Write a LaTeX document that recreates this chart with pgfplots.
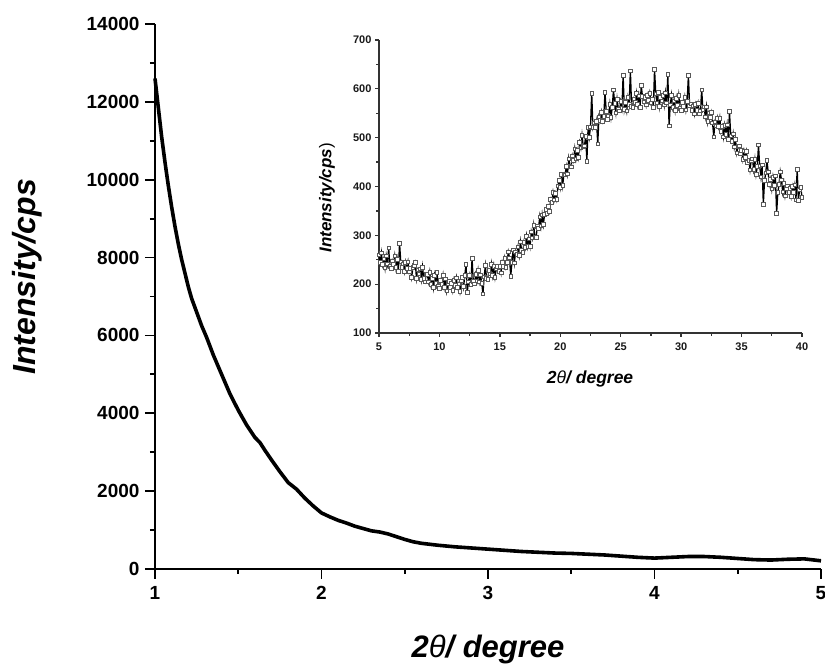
\documentclass[border=0pt]{standalone}
\usepackage{fontspec}
\setmainfont{Liberation Sans}
\usepackage{pgfplots}
\pgfplotsset{compat=1.18}
\begin{document}
\begin{tikzpicture}[x=1pt,y=1pt]
\useasboundingbox (0,0) rectangle (825,666);
% ---------- main axis ----------
\begin{axis}[
  at={(155pt,97pt)}, anchor=south west,
  scale only axis, width=666pt, height=545pt,
  xmin=1, xmax=5, ymin=0, ymax=14000,
  axis x line=bottom, axis y line=left,
  axis line style={-, line width=1.8pt, black},
  xtick={1,2,3,4,5}, ytick={0,2000,...,14000},
  minor x tick num=1, minor y tick num=1,
  tick align=outside,
  major tick length=10pt, minor tick length=5pt,
  every tick/.style={line width=1.8pt, black},
  scaled ticks=false,
  /pgf/number format/set thousands separator={},
  /pgf/number format/assume math mode=true,
  tick label style={font=\bfseries\fontsize{19}{19}\selectfont},
  xticklabel style={yshift=-4pt},
  yticklabel style={xshift=-2pt},
  xlabel={\bfseries\itshape 2{\mdseries θ}/ degree},
  ylabel={\bfseries\itshape Intensity/cps},
  xlabel style={at={(axis description cs:0.5,-0.163)}, anchor=base, font=\fontsize{31}{31}\selectfont},
  ylabel style={at={(axis description cs:-0.192,0.536)}, anchor=center, font=\fontsize{32}{32}\selectfont},
  clip=false,
]
\addplot[black, line width=3.6pt, line join=round] coordinates {
(1.00,12600)(1.02,11850)(1.04,11100)(1.06,10450)(1.08,9850)(1.10,9300)
(1.12,8800)(1.14,8350)(1.16,7950)(1.18,7600)(1.20,7250)(1.22,6950)
(1.25,6600)(1.28,6250)(1.31,5950)(1.35,5500)(1.40,5000)(1.45,4500)
(1.50,4080)(1.55,3700)(1.60,3380)(1.63,3250)(1.66,3050)(1.70,2800)
(1.75,2500)(1.80,2220)(1.85,2050)(1.90,1820)(1.95,1620)(2.00,1440)
(2.05,1340)(2.10,1250)(2.15,1180)(2.20,1100)(2.25,1040)(2.30,980)
(2.35,950)(2.40,900)(2.45,830)(2.50,760)(2.55,700)(2.60,660)
(2.70,610)(2.80,570)(2.90,540)(3.00,510)(3.10,480)(3.20,450)
(3.30,430)(3.40,410)(3.50,400)(3.60,380)(3.70,360)(3.80,330)
(3.90,300)(4.00,280)(4.10,300)(4.20,320)(4.30,320)(4.40,300)
(4.50,270)(4.60,240)(4.70,230)(4.80,250)(4.90,260)(5.00,210)
};
\end{axis}
% ---------- inset ----------
\begin{axis}[
  at={(379pt,333pt)}, anchor=south west,
  scale only axis, width=423pt, height=293pt,
  xmin=5, xmax=40, ymin=100, ymax=700,
  axis x line=bottom, axis y line=left,
  axis line style={-, line width=1.3pt, black!80},
  xtick={5,10,...,40}, ytick={100,200,...,700},
  minor x tick num=1, minor y tick num=1,
  tick align=outside,
  major tick length=4pt, minor tick length=3pt,
  every tick/.style={line width=1.3pt, black!80},
  /pgf/number format/assume math mode=true,
  tick label style={font=\bfseries\fontsize{11}{11}\selectfont, black!90},
  xticklabel style={yshift=-2pt},
  xlabel={\bfseries\itshape 2{\mdseries θ}/ degree},
  ylabel={\bfseries\itshape Intensity/cps\mdseries\upshape)},
  xlabel style={at={(axis description cs:0.499,-0.171)}, anchor=base, font=\fontsize{17.5}{17.5}\selectfont},
  ylabel style={at={(axis description cs:-0.123,0.461)}, anchor=center, font=\fontsize{17}{17}\selectfont},
  clip=false,
]
\addplot[black, line width=1.3pt, mark=square*, mark size=1.8pt,
  mark options={fill=white, draw=black!65, line width=0.7pt}] coordinates {
(5.0,260)(5.1,245)(5.2,264)(5.3,240)(5.4,252)(5.5,233)(5.6,258)(5.7,242)(5.8,274)(5.9,236)
(6.0,232)(6.1,248)(6.2,240)(6.3,258)(6.4,234)(6.5,251)(6.6,226)(6.7,284)(6.8,246)(6.9,234)
(7.0,242)(7.1,226)(7.2,245)(7.3,232)(7.4,246)(7.5,225)(7.6,232)(7.7,214)(7.8,234)(7.9,239)
(8.0,245)(8.1,212)(8.2,229)(8.3,221)(8.4,231)(8.5,210)(8.6,235)(8.7,212)(8.8,205)(8.9,220)
(9.0,220)(9.1,205)(9.2,224)(9.3,200)(9.4,212)(9.5,193)(9.6,218)(9.7,202)(9.8,224)(9.9,196)
(10.0,192)(10.1,208)(10.2,200)(10.3,218)(10.4,194)(10.5,211)(10.6,186)(10.7,202)(10.8,206)(10.9,194)
(11.0,202)(11.1,187)(11.2,208)(11.3,197)(11.4,213)(11.5,193)(11.6,201)(11.7,185)(11.8,207)(11.9,214)
(12.0,195)(12.1,218)(12.2,241)(12.3,183)(12.4,205)(12.5,218)(12.6,199)(12.7,253)(12.8,206)(12.9,201)
(13.0,220)(13.1,207)(13.2,228)(13.3,205)(13.4,219)(13.5,202)(13.6,180)(13.7,215)(13.8,238)(13.9,212)
(14.0,210)(14.1,228)(14.2,221)(14.3,241)(14.4,218)(14.5,237)(14.6,214)(14.7,231)(14.8,237)(14.9,226)
(15.0,236)(15.1,223)(15.2,245)(15.3,236)(15.4,253)(15.5,235)(15.6,245)(15.7,266)(15.8,254)(15.9,216)
(16.0,245)(16.1,270)(16.2,244)(16.3,266)(16.4,261)(16.5,276)(16.6,259)(16.7,287)(16.8,269)(16.9,265)
(17.0,286)(17.1,275)(17.2,298)(17.3,277)(17.4,293)(17.5,278)(17.6,307)(17.7,295)(17.8,320)(17.9,296)
(18.0,296)(18.1,318)(18.2,314)(18.3,338)(18.4,319)(18.5,342)(18.6,322)(18.7,343)(18.8,353)(18.9,345)
(19.0,359)(19.1,349)(19.2,374)(19.3,368)(19.4,388)(19.5,373)(19.6,386)(19.7,374)(19.8,401)(19.9,412)
(20.0,398)(20.1,425)(20.2,402)(20.3,426)(20.4,424)(20.5,441)(20.6,426)(20.7,457)(20.8,441)(20.9,440)
(21.0,463)(21.1,453)(21.2,477)(21.3,457)(21.4,474)(21.5,460)(21.6,490)(21.7,479)(21.8,505)(21.9,482)
(22.0,483)(22.1,503)(22.2,452)(22.3,521)(22.4,501)(22.5,522)(22.6,591)(22.7,521)(22.8,530)(22.9,521)
(23.0,534)(23.1,487)(23.2,543)(23.3,535)(23.4,552)(23.5,534)(23.6,544)(23.7,593)(23.8,554)(23.9,538)
(24.0,545)(24.1,568)(24.2,542)(24.3,562)(24.4,598)(24.5,570)(24.6,551)(24.7,579)(24.8,559)(24.9,555)
(25.0,574)(25.1,561)(25.2,628)(25.3,558)(25.4,572)(25.5,555)(25.6,582)(25.7,568)(25.8,637)(25.9,564)
(26.0,562)(26.1,579)(26.2,572)(26.3,591)(26.4,568)(26.5,586)(26.6,562)(26.7,607)(26.8,584)(26.9,573)
(27.0,582)(27.1,567)(27.2,587)(27.3,576)(27.4,591)(27.5,571)(27.6,579)(27.7,562)(27.8,640)(27.9,590)
(28.0,571)(28.1,593)(28.2,564)(28.3,583)(28.4,575)(28.5,587)(28.6,567)(28.7,592)(28.8,571)(28.9,630)
(29.0,524)(29.1,567)(29.2,587)(29.3,562)(29.4,575)(29.5,556)(29.6,581)(29.7,566)(29.8,587)(29.9,560)
(30.0,556)(30.1,572)(30.2,564)(30.3,582)(30.4,557)(30.5,574)(30.6,628)(30.7,565)(30.8,569)(30.9,556)
(31.0,565)(31.1,549)(31.2,568)(31.3,556)(31.4,570)(31.5,549)(31.6,555)(31.7,598)(31.8,558)(31.9,563)
(32.0,543)(32.1,563)(32.2,533)(32.3,551)(32.4,542)(32.5,552)(32.6,530)(32.7,502)(32.8,532)(32.9,524)
(33.0,540)(33.1,523)(33.2,540)(33.3,513)(33.4,523)(33.5,502)(33.6,525)(33.7,507)(33.8,526)(33.9,496)
(34.0,554)(34.1,504)(34.2,493)(34.3,508)(34.4,481)(34.5,496)(34.6,469)(34.7,482)(34.8,483)(34.9,468)
(35.0,474)(35.1,456)(35.2,473)(35.3,460)(35.4,472)(35.5,449)(35.6,454)(35.7,434)(35.8,454)(35.9,457)
(36.0,435)(36.1,455)(36.2,425)(36.3,441)(36.4,485)(36.5,442)(36.6,420)(36.7,444)(36.8,364)(36.9,412)
(37.0,428)(37.1,454)(37.2,430)(37.3,404)(37.4,415)(37.5,395)(37.6,419)(37.7,402)(37.8,422)(37.9,345)
(38.0,388)(38.1,404)(38.2,430)(38.3,414)(38.4,389)(38.5,406)(38.6,381)(38.7,396)(38.8,401)(38.9,388)
(39.0,396)(39.1,380)(39.2,400)(39.3,388)(39.4,403)(39.5,373)(39.6,435)(39.7,372)(39.8,393)(39.9,398)
(40.0,378)
};
\end{axis}
\end{tikzpicture}
\end{document}
